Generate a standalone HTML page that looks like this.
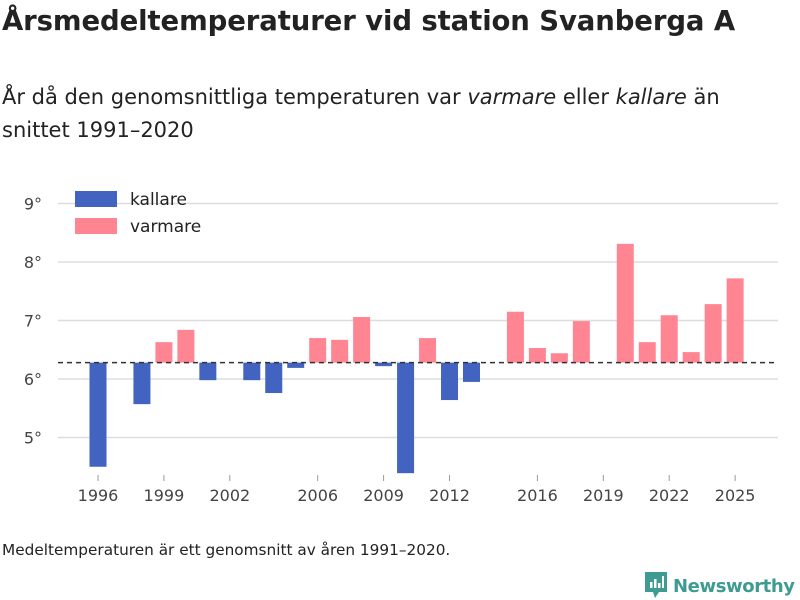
<!DOCTYPE html>
<html><head><meta charset="utf-8"><style>
body{margin:0;width:800px;height:600px;background:#fff;font-family:"DejaVu Sans","Liberation Sans",sans-serif;overflow:hidden;position:relative;color:#222}
h1{position:absolute;left:2px;top:5px;margin:0;font-size:27.5px;font-weight:bold;letter-spacing:-0.1px;white-space:nowrap}
.sub{position:absolute;left:2px;top:81px;font-size:21px;line-height:33px;width:790px}
.note{position:absolute;left:2px;top:541px;font-size:15.3px;white-space:nowrap}
.logo{position:absolute;left:645px;top:570px;font-size:18px;letter-spacing:-0.4px;color:#3d9b92;font-weight:bold;white-space:nowrap}
</style></head><body>
<h1>Årsmedeltemperaturer vid station Svanberga A</h1>
<div class="sub">År då den genomsnittliga temperaturen var <i>varmare</i> eller <i>kallare</i> än snittet 1991–2020</div>
<svg id="chart" width="800" height="600" style="position:absolute;left:0;top:0"></svg>
<div class="note">Medeltemperaturen är ett genomsnitt av åren 1991–2020.</div>
<div class="logo"><svg width="22" height="28" style="vertical-align:-6px;margin-right:6px"><path d="M0 2h22v20h-8l-4 6-2-6H0z" fill="#3d9b92"/><rect x="5" y="12" width="2.5" height="6" fill="#fff"/><rect x="9" y="9" width="2.5" height="9" fill="#fff"/><rect x="13" y="13" width="2.5" height="5" fill="#fff"/><rect x="17" y="6" width="2" height="12" fill="#fff"/></svg>Newsworthy</div>
<script>
const years=[1996,1997,1998,1999,2000,2001,2002,2003,2004,2005,2006,2007,2008,2009,2010,2011,2012,2013,2014,2015,2016,2017,2018,2019,2020,2021,2022,2023,2024,2025];
const temps=[4.50,null,5.57,6.63,6.84,5.98,null,5.98,5.76,6.19,6.70,6.67,7.06,6.22,4.39,6.70,5.64,5.95,null,7.15,6.53,6.44,6.99,null,8.31,6.63,7.09,6.46,7.28,7.72];
const baseline=6.28;
const yTicks=[5,6,7,8,9];
const xTicks=[1996,1999,2002,2006,2009,2012,2016,2019,2022,2025];
const NS="http://www.w3.org/2000/svg",svg=document.getElementById('chart');
const y=v=>379-(v-6)*58.5, x=yr=>98+(yr-1996)*21.97;
function mk(t,a){const e=document.createElementNS(NS,t);for(const k in a)e.setAttribute(k,a[k]);svg.appendChild(e);return e;}
yTicks.forEach(v=>{
 const l=mk('line',{x1:58,x2:778,y1:y(v),y2:y(v),stroke:'#ddd','stroke-width':1.5});
 
 
 const t=mk('text',{x:42,y:y(v)+6,'text-anchor':'end','font-size':16,fill:'#444','font-family':'DejaVu Sans, sans-serif'});
 t.textContent=v+'°';
 
 
});
xTicks.forEach(yr=>{
 const l=mk('line',{x1:x(yr),x2:x(yr),y1:475,y2:481,stroke:'#999'});
 
 
 const t=mk('text',{x:x(yr),y:501,'text-anchor':'middle','font-size':16,fill:'#444','font-family':'DejaVu Sans, sans-serif'});
 t.textContent=yr;
 
 
});
years.forEach((yr,i)=>{
 const v=temps[i];if(v==null)return;
 const top=Math.min(y(v),y(baseline)),h=Math.abs(y(v)-y(baseline));
 const r=mk('rect',{x:x(yr)-8.5,y:top,width:17,height:h,fill:v<baseline?'#4263c0':'#ff8593'});
 
 
});
const b=mk('line',{x1:58,x2:778,y1:y(baseline),y2:y(baseline),stroke:'#333','stroke-width':1.5,'stroke-dasharray':'5,4'});


[['kallare','#4263c0',199],['varmare','#ff8593',226]].forEach(([n,c,yy])=>{
 const r=mk('rect',{x:75,y:yy-8,width:42,height:16,fill:c});
 
 
 const t=mk('text',{x:130,y:yy+6,'font-size':17,fill:'#222','font-family':'DejaVu Sans, sans-serif'});
 t.textContent=n;
 
 
});
</script>
</body></html>
